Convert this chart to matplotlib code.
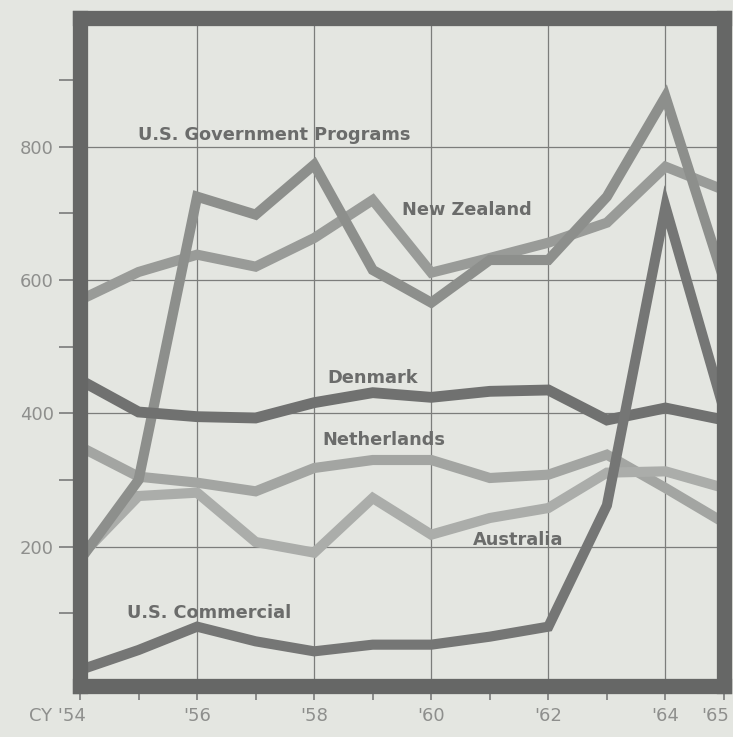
import matplotlib
matplotlib.use("Agg")
import matplotlib.pyplot as plt
import matplotlib.transforms as mtransforms

years = [1954, 1955, 1956, 1957, 1958, 1959, 1960, 1961, 1962, 1963, 1964, 1965]

us_gov = [180, 300, 725, 698, 773, 615, 566, 630, 630, 725, 875, 600]
new_zealand = [570, 612, 638, 620, 663, 720, 611, 633, 656, 686, 770, 735]
denmark = [450, 402, 395, 393, 416, 431, 424, 433, 435, 390, 408, 390]
netherlands = [350, 305, 296, 283, 318, 330, 330, 303, 308, 338, 288, 236]
australia = [185, 276, 281, 207, 191, 273, 218, 243, 258, 311, 313, 288]
us_commercial = [15, 45, 80, 58, 43, 53, 53, 65, 80, 262, 710, 405]

x_tick_years = [1954, 1956, 1958, 1960, 1962, 1964, 1965]
x_tick_labels = ["CY '54", "'56", "'58", "'60", "'62", "'64", "'65"]
y_major = [200, 400, 600, 800]
y_minor = [100, 300, 500, 700, 900]

BG = "#e4e6e1"
FRAME = "#666766"
TXT = "#6b6c6b"
TICKTXT = "#8e8f8d"

fig = plt.figure(figsize=(7.33, 7.37), dpi=100, facecolor=BG)
ax = fig.add_axes([80/733, 1-686/737, (724-80)/733, (686-18)/737])
ax.set_facecolor(BG)

series = [
    (netherlands, "#a3a5a2", 7.3),
    (australia, "#abadaa", 7.3),
    (new_zealand, "#999b98", 7.3),
    (us_gov, "#8d8f8c", 7.3),
    (denmark, "#707170", 7.8),
    (us_commercial, "#757675", 7.3),
]
for vals, col, lw in series:
    ax.plot(years, vals, color=col, lw=lw, solid_joinstyle="miter",
            solid_capstyle="butt", zorder=3, clip_on=True)

ax.set_xlim(1954, 1965)
ax.set_ylim(-9, 993)

ax.set_xticks(x_tick_years)
ax.set_xticklabels(x_tick_labels)
ax.set_xticks([1955, 1957, 1959, 1961, 1963], minor=True)
ax.set_yticks(y_major)
ax.set_yticks(y_minor, minor=True)

for s in ax.spines.values():
    s.set_linewidth(11)
    s.set_color(FRAME)
    s.set_zorder(5)
    s.set_capstyle("projecting")

ax.tick_params(axis="both", which="both", direction="out", color="#7a7b7a",
               width=1.2, labelcolor=TICKTXT, labelsize=13)
ax.tick_params(axis="y", which="both", length=15, pad=4)
ax.tick_params(axis="x", which="both", length=10, pad=5)

xl = ax.get_xticklabels()
first = xl[0]
first.set_horizontalalignment("right")
first.set_transform(first.get_transform() + mtransforms.ScaledTranslation(6/100, 0, fig.dpi_scale_trans))
last = xl[-1]
last.set_transform(last.get_transform() + mtransforms.ScaledTranslation(-9/100, 0, fig.dpi_scale_trans))

# grid: horizontal at majors, vertical at even years
for y in y_major:
    ax.axhline(y, color="#7c7d7b", lw=0.9, zorder=1)
for x in [1956, 1958, 1960, 1962, 1964]:
    ax.axvline(x, color="#7c7d7b", lw=0.9, zorder=1)

def px2data(px, py):
    return 1954 + (px - 80) / 58.5, 800 - (py - 147) * 1.5

labels = [
    ("U.S. Government Programs", 138, 135),
    ("New Zealand", 402, 210),
    ("Denmark", 327, 378),
    ("Netherlands", 322, 440),
    ("Australia", 473, 540),
    ("U.S. Commercial", 127, 613),
]
for t, px, py in labels:
    xd, yd = px2data(px, py)
    ax.text(xd, yd, t, color=TXT, fontsize=12.8, fontweight="bold",
            ha="left", va="center", zorder=4)

fig.savefig("out.png", dpi=100, facecolor=BG)
